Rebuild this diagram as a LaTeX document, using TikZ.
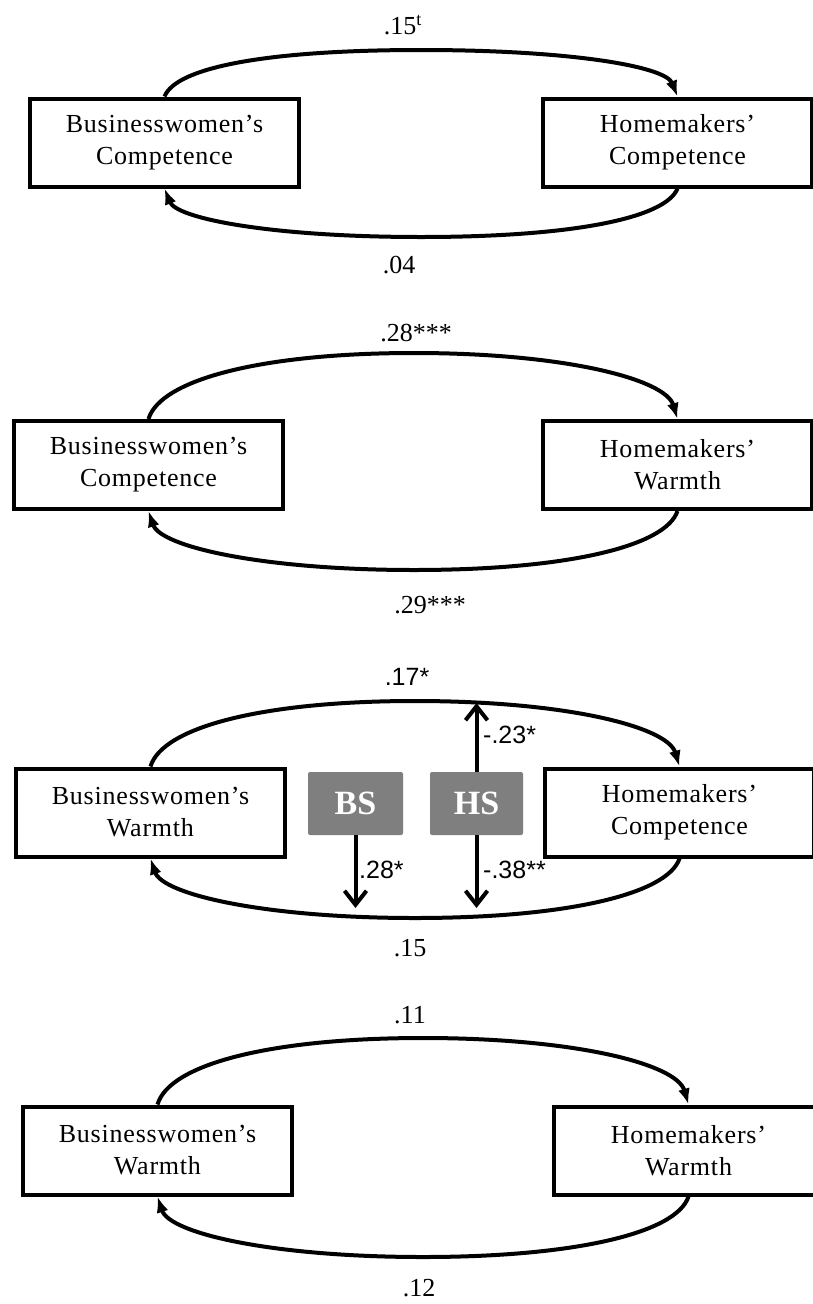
\documentclass[tikz,border=0pt]{standalone}
\usepackage{fontspec}
\setmainfont{Liberation Serif}
\newfontfamily\boxfont[LetterSpace=3]{Liberation Serif}
\newfontfamily\labsans{Liberation Sans}
\usetikzlibrary{arrows.meta}
\definecolor{sgray}{RGB}{127,127,127}
\begin{document}
\begin{tikzpicture}[x=1pt,y=-1pt,
  cbox/.style={draw, line width=4pt, minimum width=269pt, minimum height=88pt, inner sep=0pt, align=center, font=\boxfont\fontsize{26}{32}\selectfont},
  sbox/.style={fill=sgray, rounded corners=2pt, minimum width=95pt, minimum height=63pt, inner sep=0pt, text=white, font=\bfseries\fontsize{34}{36}\selectfont},
  arc/.style={line width=4pt, -{Latex[length=16pt,width=12pt]}},
  varrow/.style={line width=4pt, -{Straight Barb[length=14pt,width=22pt]}},
  lab/.style={font=\fontsize{26}{30}\selectfont, inner sep=0pt},
  slab/.style={font=\labsans\fontsize{25}{30}\selectfont, inner sep=0pt},
]
\fill[white] (0,0) rectangle (812,1304);
\useasboundingbox (0,0) rectangle (812,1304);

% Panel 1
\node[cbox] (L1) at (164.5,142.5) {Businesswomen’s\\Competence};
\node[cbox] (R1) at (677.5,142.5) {Homemakers’\\Competence};
\coordinate (t1) at (421,50);
\coordinate (b1) at (421,237);
\draw[arc] (L1.north) .. controls +(12,-30) and +(-150,0) .. (t1) .. controls +(150,0) and +(-12,-30) .. (R1.north);
\draw[arc] (R1.south) .. controls +(-12,30) and +(150,0) .. (b1) .. controls +(-150,0) and +(12,30) .. (L1.south);
\node[lab] (l1t) at (403,25) {.15\textsuperscript{t}};
\node[lab] (l1b) at (399,265) {.04};

% Panel 2
\node[cbox] (L2) at (148.5,465) {Businesswomen’s\\Competence};
\node[cbox] (R2) at (677.5,465) {Homemakers’\\Warmth};
\coordinate (t2) at (414,353);
\coordinate (b2) at (414,570);
\draw[arc] (L2.north) .. controls +(12,-40) and +(-150,0) .. (t2) .. controls +(150,0) and +(-12,-40) .. (R2.north);
\draw[arc] (R2.south) .. controls +(-12,36) and +(150,0) .. (b2) .. controls +(-150,0) and +(12,36) .. (L2.south);
\node[lab] (l2t) at (416,333) {.28***};
\node[lab] (l2b) at (430,605) {.29***};

% Panel 3
\node[cbox] (L3) at (150.5,812.5) {Businesswomen’s\\Warmth};
\node[cbox] (R3) at (679.5,812.5) {Homemakers’\\Competence};
\coordinate (t3) at (415,701);
\coordinate (b3) at (415,918);
\draw[arc] (L3.north) .. controls +(12,-40) and +(-150,0) .. (t3) .. controls +(150,0) and +(-12,-40) .. (R3.north);
\draw[arc] (R3.south) .. controls +(-12,36) and +(150,0) .. (b3) .. controls +(-150,0) and +(12,36) .. (L3.south);
\node[sbox] (BS) at (355.5,803.5) {BS};
\node[sbox, minimum width=93pt] (HS) at (476.5,803.5) {HS};
\coordinate (bsend) at (355.5,908);
\coordinate (hsup) at (476.5,703);
\coordinate (hsdown) at (476.5,908);
\draw[varrow] (BS.south) -- (bsend);
\draw[varrow] (HS.north) -- (hsup);
\draw[varrow] (HS.south) -- (hsdown);
\node[slab] (l3t) at (407,677) {.17*};
\node[lab] (l3b) at (410,948) {.15};
\node[slab, anchor=west] (l3a) at (483,735) {-.23*};
\node[slab, anchor=west] (l3c) at (359,870) {.28*};
\node[slab, anchor=west] (l3d) at (483,870) {-.38**};

% Panel 4
\node[cbox] (L4) at (157.5,1150.5) {Businesswomen’s\\Warmth};
\node[cbox] (R4) at (688.5,1150.5) {Homemakers’\\Warmth};
\coordinate (t4) at (423,1038);
\coordinate (b4) at (423,1257);
\draw[arc] (L4.north) .. controls +(12,-41) and +(-150,0) .. (t4) .. controls +(150,0) and +(-12,-41) .. (R4.north);
\draw[arc] (R4.south) .. controls +(-12,37) and +(150,0) .. (b4) .. controls +(-150,0) and +(12,37) .. (L4.south);
\node[lab] (l4t) at (410,1015) {.11};
\node[lab] (l4b) at (419,1288) {.12};
\end{tikzpicture}
\end{document}
